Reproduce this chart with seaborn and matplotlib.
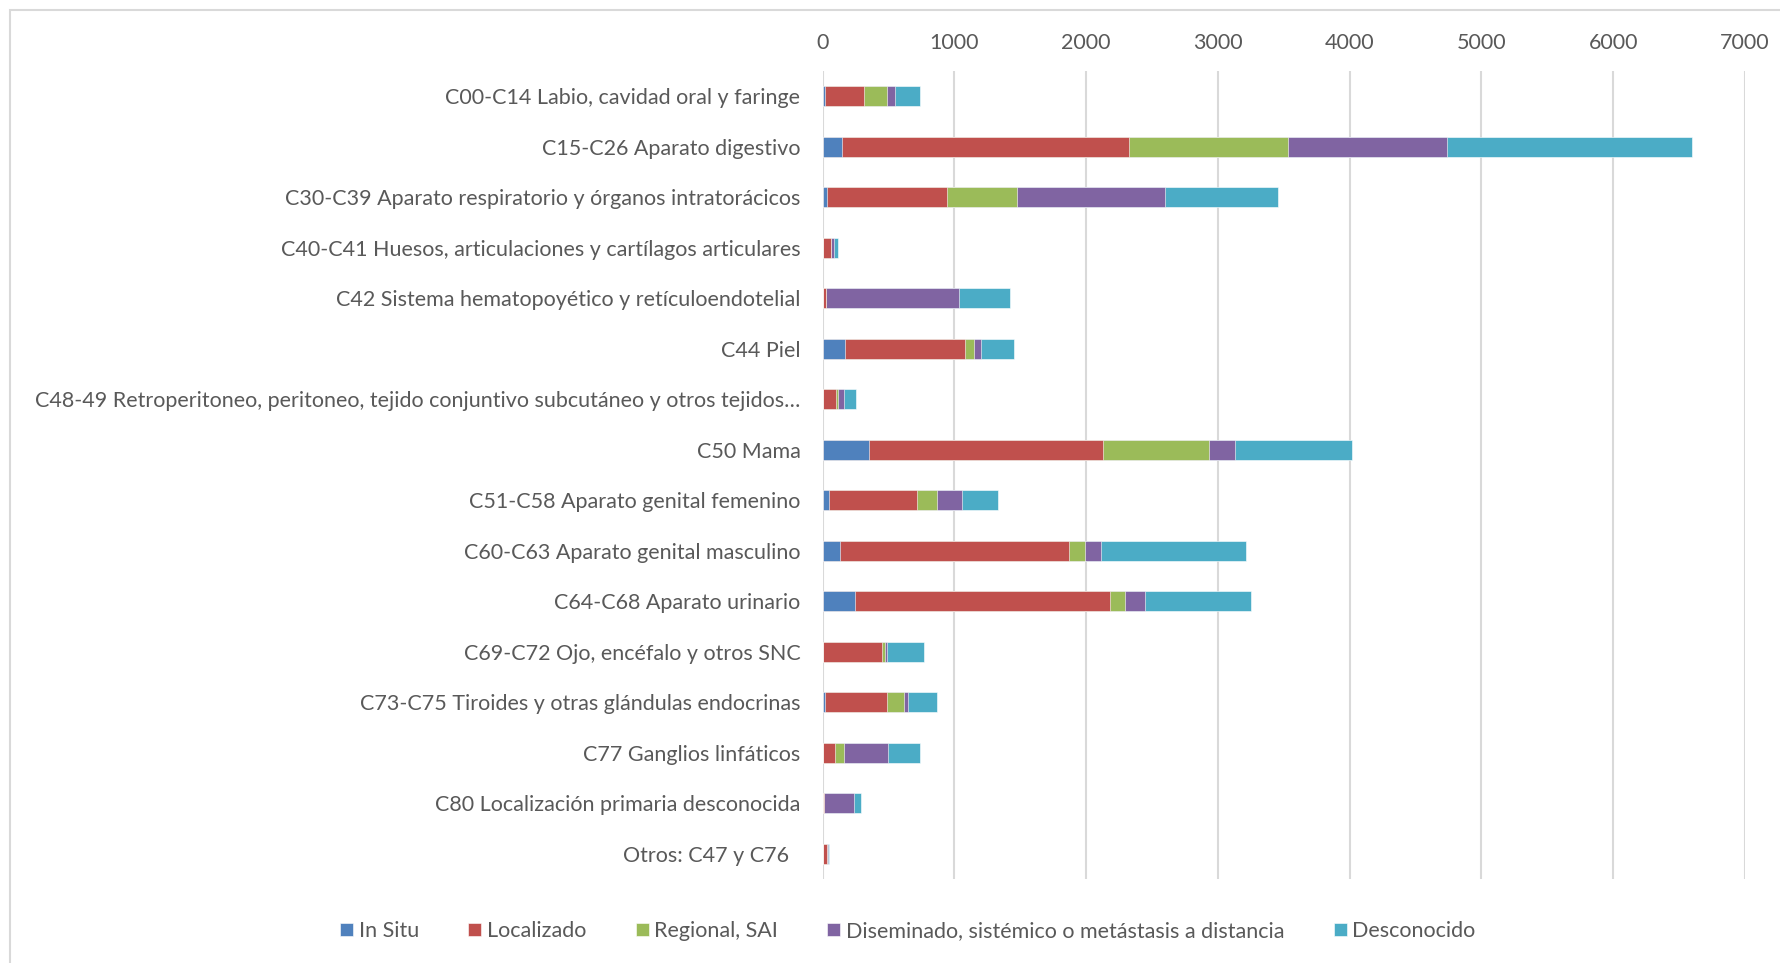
import numpy as np
import pandas as pd
import matplotlib
matplotlib.use('Agg')
import matplotlib.pyplot as plt
import seaborn as sns
from matplotlib.patches import Rectangle

# categories (top to bottom)
categories = [
    'C00-C14 Labio, cavidad oral y faringe',
    'C15-C26 Aparato digestivo',
    'C30-C39 Aparato respiratorio y órganos intratorácicos',
    'C40-C41 Huesos, articulaciones y cartílagos articulares',
    'C42 Sistema hematopoyético y retículoendotelial',
    'C44 Piel',
    'C48-49 Retroperitoneo, peritoneo, tejido conjuntivo subcutáneo y otros tejidos…',
    'C50 Mama',
    'C51-C58 Aparato genital femenino',
    'C60-C63 Aparato genital masculino',
    'C64-C68 Aparato urinario',
    'C69-C72 Ojo, encéfalo y otros SNC',
    'C73-C75 Tiroides y otras glándulas endocrinas',
    'C77 Ganglios linfáticos',
    'C80 Localización primaria desconocida',
    'Otros: C47 y C76  ',
]

in_situ     = [18, 144, 35, 5, 5, 167, 3, 354, 46, 129, 248, 3, 15, 2, 3, 2]
localizado  = [296, 2178, 909, 55, 20, 914, 98, 1775, 670, 1739, 1929, 448, 474, 92, 8, 31]
regional    = [177, 1207, 534, 4, 3, 66, 13, 805, 152, 124, 119, 22, 131, 71, 2, 2]
diseminado  = [61, 1209, 1117, 25, 1010, 56, 48, 193, 193, 124, 147, 13, 31, 331, 226, 4]
desconocido = [185, 1863, 858, 30, 385, 248, 91, 893, 273, 1099, 808, 279, 217, 243, 50, 12]

series_names = ['In Situ', 'Localizado', 'Regional, SAI',
                'Diseminado, sistémico o metástasis a distancia', 'Desconocido']
series_values = [in_situ, localizado, regional, diseminado, desconocido]
colors = ['#4F81BD', '#C0504D', '#9BBB59', '#8064A2', '#4BACC6']
xticks = [0, 1000, 2000, 3000, 4000, 5000, 6000, 7000]

# cumulative totals so the stacked segments can be drawn back to front
data = pd.DataFrame(dict(zip(series_names, series_values)), index=categories)
cumulative = data.cumsum(axis=1)

text_color = '#595959'
fsize = 15.5
plt.rcParams['font.family'] = ['Lato', 'DejaVu Sans']

fig = plt.figure(figsize=(17.8, 9.63), dpi=100)
ax = fig.add_axes([0.4622, 0.0872, 0.5181, 0.8391])

for name, color in reversed(list(zip(series_names, colors))):
    sns.barplot(x=cumulative[name].values, y=categories, orient='h',
                color=color, width=0.4, ax=ax, label=name,
                edgecolor='white', linewidth=0.4, saturation=1)

if ax.get_legend() is not None:
    ax.get_legend().remove()

ax.set_xlim(0, 7000)
ax.set_xticks(xticks)
ax.xaxis.tick_top()
ax.tick_params(axis='x', length=0, pad=13, labelsize=fsize, colors=text_color)
ax.tick_params(axis='y', length=0, pad=16, labelsize=fsize, colors=text_color)
ax.grid(axis='x', color='#D9D9D9', linewidth=1.5)
ax.set_axisbelow(True)
for s in ax.spines.values():
    s.set_visible(False)
ax.set_xlabel('')
ax.set_ylabel('')

handles, labels = ax.get_legend_handles_labels()
order = [labels.index(n) for n in series_names]
fig.legend([handles[i] for i in order], [labels[i] for i in order],
           loc='center', bbox_to_anchor=(0.51, 0.033), ncol=5, frameon=False,
           fontsize=fsize, labelcolor=text_color, handlelength=0.6,
           handleheight=0.6, handletextpad=0.25, columnspacing=2.3)

# chart area border (right and bottom fall outside the image)
fig.add_artist(Rectangle((10 / 1780, -0.05), 1.2, 1 - 10 / 963 + 0.05,
                         transform=fig.transFigure, fill=False,
                         edgecolor='#D9D9D9', linewidth=1.5))

fig.savefig('out.png', dpi=100)
